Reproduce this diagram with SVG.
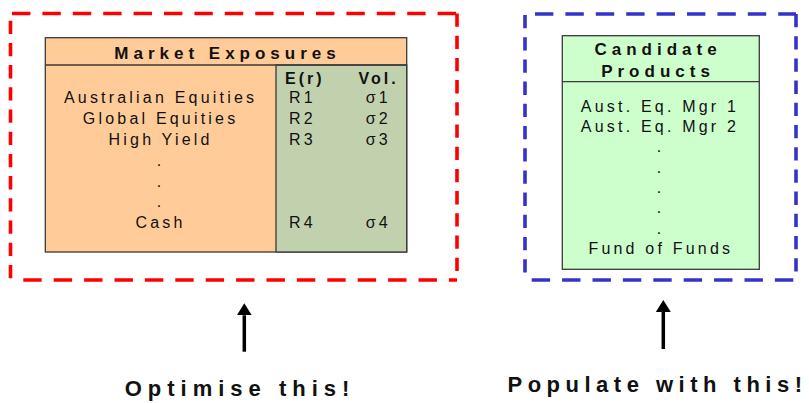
<svg xmlns="http://www.w3.org/2000/svg" width="809" height="403" viewBox="0 0 809 403">
  <style>
    text { font-family: "Liberation Sans", Arial, sans-serif; fill: #111; }
    .hd { font-size: 17px; font-weight: bold; letter-spacing: 5px; text-anchor: middle; }
    .col { font-size: 16px; font-weight: bold; letter-spacing: 3px; text-anchor: middle; }
    .row { font-size: 16px; letter-spacing: 3.2px; text-anchor: middle; }
    .lbl { font-size: 22px; font-weight: bold; letter-spacing: 6px; text-anchor: middle; }
    .edge { stroke: #3a3a3a; stroke-width: 1.3; }
    .red { stroke: #ff0000; stroke-width: 3.6; fill: none; }
    .blue { stroke: #3333cc; stroke-width: 3.6; fill: none; }
    .h { stroke-dasharray: 18.4 12; }
    .v { stroke-dasharray: 13.3 8.9; }
    .arrow { stroke: #000; stroke-width: 3.5; marker-end: url(#head); }
  </style>
  <defs>
    <marker id="head" viewBox="0 0 12 15" refX="0" refY="7.5" markerWidth="12" markerHeight="15" markerUnits="userSpaceOnUse" orient="auto">
      <path d="M0,0 L12,7.5 L0,15 Z" fill="#000"/>
    </marker>
  </defs>

  <rect width="809" height="403" fill="#fff"/>

  <!-- red dashed scope frame -->
  <g id="scope-optimise">
    <path class="red h" d="M12,13.5 H457"/>
    <path class="red h" d="M23.3,280 H457"/>
    <path class="red v" d="M10.5,20.7 V280"/>
    <path class="red v" d="M457,13.5 V280"/>
  </g>

  <!-- market exposures table -->
  <g id="market-exposures">
    <rect x="45.3" y="37.7" width="361.4" height="214.3" fill="#ffcc99" class="edge"/>
    <rect x="276" y="65" width="130.7" height="187" fill="#c2d1ad" class="edge"/>
    <line x1="45.3" y1="65" x2="406.7" y2="65" class="edge"/>
    <text class="hd" x="227.5" y="59">Market Exposures</text>
    <text class="col" x="304.8" y="83.5">E(r)</text>
    <text class="col" x="378.5" y="83.5">Vol.</text>
    <text class="row" x="160.6" y="103.3">Australian Equities</text>
    <text class="row" x="160.6" y="124.1">Global Equities</text>
    <text class="row" x="160.6" y="144.9">High Yield</text>
    <text class="row" x="160.6" y="165.7">.</text>
    <text class="row" x="160.6" y="186.5">.</text>
    <text class="row" x="160.6" y="207.3">.</text>
    <text class="row" x="160.6" y="228.1">Cash</text>
    <text class="row" x="302.5" y="103.3">R1</text>
    <text class="row" x="302.5" y="124.1">R2</text>
    <text class="row" x="302.5" y="144.9">R3</text>
    <text class="row" x="302.5" y="228.1">R4</text>
    <text class="row" x="378.3" y="103.3">σ1</text>
    <text class="row" x="378.3" y="124.1">σ2</text>
    <text class="row" x="378.3" y="144.9">σ3</text>
    <text class="row" x="378.3" y="228.1">σ4</text>
  </g>

  <!-- blue dashed scope frame -->
  <g id="scope-populate">
    <path class="blue h" d="M535,14 H796"/>
    <path class="blue h" d="M531.7,280 H796"/>
    <path class="blue v" d="M525,15 V280"/>
    <path class="blue v" d="M796,14 V280"/>
  </g>

  <!-- candidate products list -->
  <g id="candidate-products">
    <rect x="562.3" y="35.7" width="197" height="233.6" fill="#ccffcc" class="edge"/>
    <line x1="562.3" y1="81.7" x2="759.3" y2="81.7" class="edge"/>
    <text class="hd" x="658" y="55">Candidate</text>
    <text class="hd" x="658" y="77.3">Products</text>
    <text class="row" x="660" y="111.5">Aust. Eq. Mgr 1</text>
    <text class="row" x="660" y="131.9">Aust. Eq. Mgr 2</text>
    <text class="row" x="660.5" y="152.2">.</text>
    <text class="row" x="660.5" y="172.6">.</text>
    <text class="row" x="660.5" y="192.9">.</text>
    <text class="row" x="660.5" y="213.3">.</text>
    <text class="row" x="660.5" y="233.6">.</text>
    <text class="row" x="660.8" y="254">Fund of Funds</text>
  </g>

  <!-- pointer arrows -->
  <g id="connectors">
    <line class="arrow" x1="244.3" y1="351.7" x2="244.3" y2="315.3"/>
    <line class="arrow" x1="663.3" y1="349" x2="663.3" y2="312"/>
  </g>

  <g id="label-optimise">
    <text class="lbl" x="240" y="396">Optimise this!</text>
  </g>
  <g id="label-populate">
    <text class="lbl" x="657.5" y="392" style="letter-spacing:5.5px">Populate with this!</text>
  </g>
</svg>
